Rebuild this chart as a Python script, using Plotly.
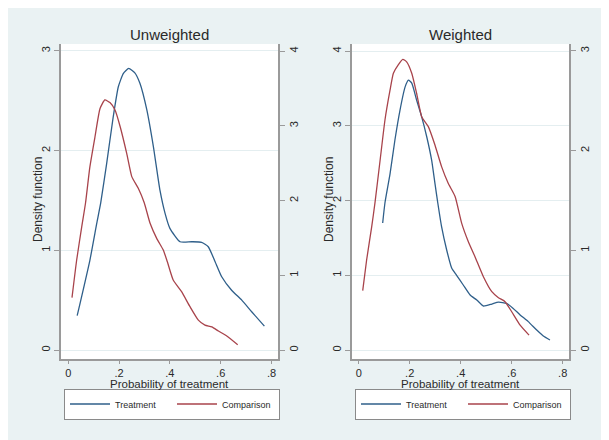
import plotly.graph_objects as go

# ---------------- data ----------------
unw_treat_x = [0.035, 0.085, 0.112, 0.128, 0.151, 0.177, 0.197, 0.217, 0.238, 0.262, 0.282,
               0.309, 0.335, 0.361, 0.381, 0.400, 0.440, 0.486, 0.525, 0.551, 0.578, 0.604,
               0.643, 0.683, 0.722, 0.772]
unw_treat_y = [0.344, 0.90, 1.27, 1.48, 1.87, 2.34, 2.64, 2.775, 2.825, 2.78, 2.675,
               2.41, 2.04, 1.60, 1.37, 1.22, 1.086, 1.086, 1.08, 1.036, 0.886, 0.735,
               0.60, 0.50, 0.384, 0.24]

unw_comp_x = [0.0146, 0.033, 0.053, 0.068, 0.085, 0.105, 0.125, 0.144, 0.164, 0.184, 0.204,
              0.230, 0.250, 0.276, 0.299, 0.322, 0.348, 0.374, 0.390, 0.413, 0.446, 0.479,
              0.512, 0.538, 0.565, 0.591, 0.624, 0.667]
unw_comp_y = [0.70, 1.204, 1.65, 1.97, 2.45, 2.85, 3.23, 3.345, 3.31, 3.21, 2.99,
              2.63, 2.32, 2.16, 1.97, 1.695, 1.494, 1.338, 1.18, 0.936, 0.78, 0.58,
              0.40, 0.334, 0.31, 0.254, 0.187, 0.07]

w_treat_x = [0.094, 0.103, 0.123, 0.142, 0.162, 0.182, 0.195, 0.208, 0.227, 0.247, 0.267,
             0.286, 0.299, 0.310, 0.325, 0.345, 0.365, 0.384, 0.410, 0.437, 0.463, 0.489,
             0.522, 0.548, 0.580, 0.606, 0.633, 0.665, 0.698, 0.724, 0.750]
w_treat_y = [1.70, 1.97, 2.36, 2.81, 3.21, 3.52, 3.61, 3.57, 3.345, 3.12, 2.85,
             2.54, 2.23, 1.97, 1.65, 1.338, 1.093, 1.0, 0.87, 0.736, 0.669, 0.589,
             0.615, 0.64, 0.625, 0.557, 0.47, 0.38, 0.268, 0.187, 0.134]

w_comp_x = [0.0157, 0.031, 0.051, 0.064, 0.084, 0.103, 0.123, 0.136, 0.155, 0.173, 0.188,
            0.208, 0.227, 0.247, 0.273, 0.299, 0.325, 0.351, 0.378, 0.404, 0.430, 0.456,
            0.489, 0.522, 0.548, 0.574, 0.600, 0.633, 0.668]
w_comp_y = [0.595, 0.903, 1.237, 1.48, 1.906, 2.307, 2.608, 2.775, 2.859, 2.915, 2.89,
            2.775, 2.575, 2.34, 2.24, 2.056, 1.839, 1.672, 1.54, 1.27, 1.086, 0.936,
            0.735, 0.585, 0.525, 0.485, 0.384, 0.25, 0.15]

x_ticks = [0, 0.2, 0.4, 0.6, 0.8]
x_tick_labels = ["0", ".2", ".4", ".6", ".8"]
titles = ["Unweighted", "Weighted"]
series_names = ["Treatment", "Comparison"]

# ---------------- style ----------------
BLUE = "#2f5f8a"
RED = "#a8434b"
BG = "#eaf2f3"
AXC = "#9a9a9a"
GRID = "#e4eef0"
TXT = "#2a2a2a"
FONT = "Liberation Sans, Arial, sans-serif"
OFF = 8                      # page body margin offset
W, H = 609 - OFF, 440 - OFF


def px(x):   # screen x (px) -> paper
    return (x - OFF) / W


def py(y):   # screen y (px, from top) -> paper
    return (440 - y) / H


fig = go.Figure()


def add(x, y, name, color, xa, ya, leg):
    fig.add_trace(go.Scatter(x=x, y=y, mode="lines", name=name,
                             line=dict(color=color, width=1.3, shape="spline", smoothing=0.5),
                             xaxis=xa, yaxis=ya, legend=leg, showlegend=True,
                             hoverinfo="skip"))


add(unw_treat_x, unw_treat_y, series_names[0], BLUE, "x", "y", "legend")
add(unw_comp_x, unw_comp_y, series_names[1], RED, "x", "y2", "legend")
add(w_treat_x, w_treat_y, series_names[0], BLUE, "x2", "y3", "legend2")
add(w_comp_x, w_comp_y, series_names[1], RED, "x2", "y4", "legend2")

ydom = [py(359), py(44)]
xdom1 = [px(61), px(278)]
xdom2 = [px(351.7), px(569.3)]


def xaxis(dom, rng, anchor):
    return dict(domain=dom, range=rng, anchor=anchor, tickvals=x_ticks, ticktext=x_tick_labels,
                showline=True, linecolor=AXC, linewidth=1.5, ticks="outside", ticklen=3,
                tickcolor=AXC, showgrid=False, zeroline=False,
                tickfont=dict(size=11, color=TXT, family=FONT))


def yaxis(rng, anchor, side, tv, grid, overlay=None):
    d = dict(domain=ydom, range=rng, anchor=anchor, side=side, tickvals=tv,
             ticktext=[str(v) for v in tv], tickangle=-90,
             showline=True, linecolor=AXC, linewidth=1.5, ticks="outside", ticklen=5,
             tickcolor=AXC, showgrid=grid, gridcolor=GRID, gridwidth=1, zeroline=False,
             tickfont=dict(size=11, color=TXT, family=FONT))
    if overlay:
        d["overlaying"] = overlay
    return d


leg_common = dict(orientation="h", xanchor="left", yanchor="middle",
                  bgcolor="white", bordercolor="#8a8a8a", borderwidth=1,
                  font=dict(size=9, color=TXT, family=FONT), entrywidth=52, itemwidth=40,
                  tracegroupgap=0)

fig.update_layout(
    width=W, height=H,
    margin=dict(l=0, r=0, t=0, b=0),
    paper_bgcolor=BG, plot_bgcolor="white",
    font=dict(family=FONT, color=TXT),
    xaxis=xaxis(xdom1, [-0.0287, 0.8256], "y"),
    xaxis2=xaxis(xdom2, [-0.0275, 0.8259], "y3"),
    yaxis=yaxis([-0.090, 3.069], "x", "left", [0, 1, 2, 3], True),
    yaxis2=yaxis([-0.120, 4.094], "x", "right", [0, 1, 2, 3, 4], False, "y"),
    yaxis3=yaxis([-0.120, 4.094], "x2", "left", [0, 1, 2, 3, 4], True),
    yaxis4=yaxis([-0.090, 3.069], "x2", "right", [0, 1, 2, 3], False, "y3"),
    legend=dict(x=px(64), y=py(404), **leg_common),
    legend2=dict(x=px(355), y=py(404), **leg_common),
)

# panel titles and axis titles
for cx, t in [((61 + 278) / 2, titles[0]), ((351.7 + 569.3) / 2, titles[1])]:
    fig.add_annotation(text=t, x=px(cx), y=py(34), xref="paper", yref="paper",
                       showarrow=False, font=dict(size=15, color=TXT, family=FONT),
                       xanchor="center", yanchor="middle")
for cx in [(61 + 278) / 2, (351.7 + 569.3) / 2]:
    fig.add_annotation(text="Probability of treatment", x=px(cx), y=py(384),
                       xref="paper", yref="paper", showarrow=False,
                       font=dict(size=11.5, color=TXT, family=FONT),
                       xanchor="center", yanchor="middle")
for cx in [38, 329]:
    fig.add_annotation(text="Density function", x=px(cx), y=py(200),
                       xref="paper", yref="paper", showarrow=False, textangle=-90,
                       font=dict(size=12, color=TXT, family=FONT),
                       xanchor="center", yanchor="middle")

fig.write_html("out.html")
